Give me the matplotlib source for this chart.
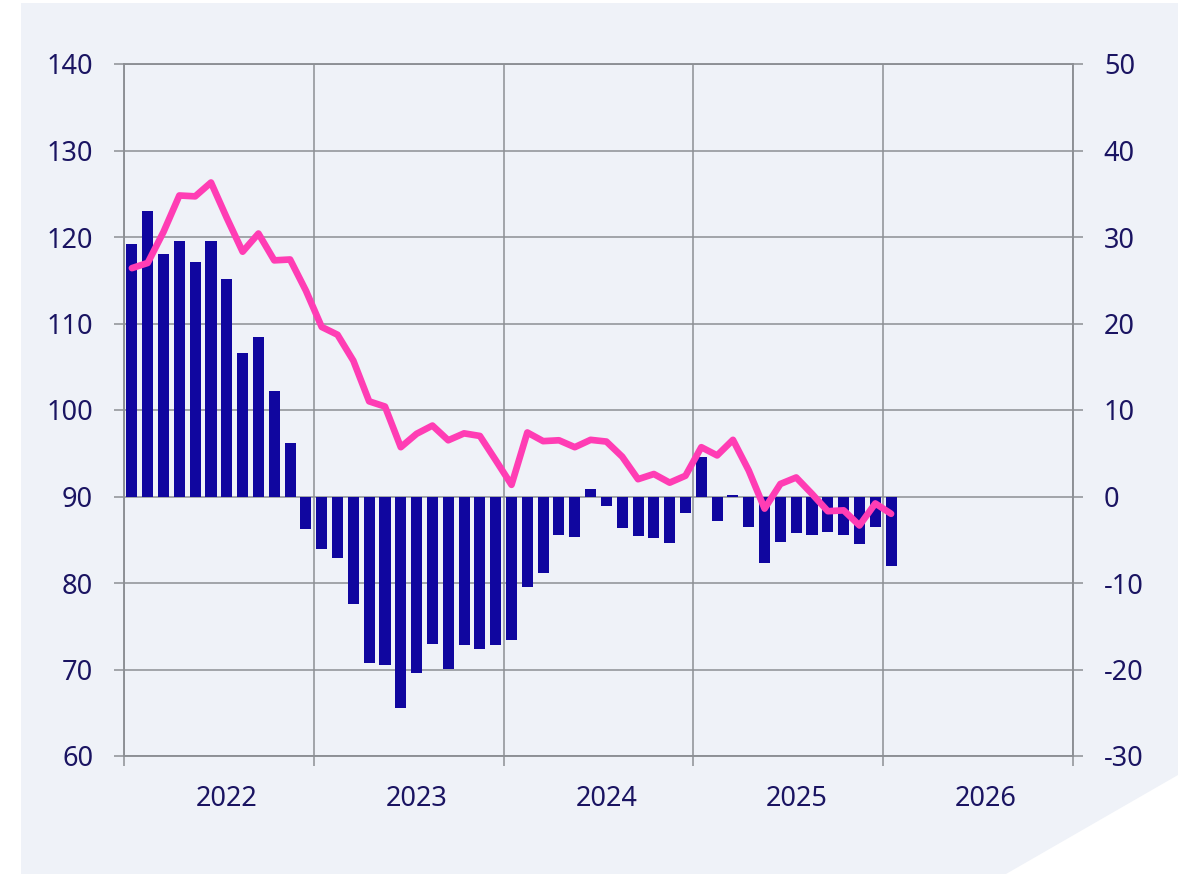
import numpy as np
import matplotlib.pyplot as plt
from matplotlib.patches import Polygon

plt.rcParams['font.family'] = ['Noto Sans', 'DejaVu Sans']
plt.rcParams['axes.unicode_minus'] = False

# monthly series, Jan 2022 .. Jan 2026
years = ["2022", "2023", "2024", "2025", "2026"]
bar_values = [29.2, 33.0, 28.0, 29.5, 27.1, 29.5, 25.1, 16.6, 18.4, 12.2, 6.2, -3.8,
              -6.05, -7.1, -12.4, -19.2, -19.5, -24.5, -20.4, -17.1, -19.95, -17.2, -17.65, -17.2,
              -16.6, -10.45, -8.9, -4.4, -4.7, 0.9, -1.1, -3.6, -4.6, -4.8, -5.4, -1.85,
              4.6, -2.8, 0.15, -3.55, -7.7, -5.25, -4.2, -4.5, -4.05, -4.4, -5.5, -3.5,
              -8.05]
line_values = [116.4, 117.0, 120.6, 124.8, 124.7, 126.3, 122.2, 118.3, 120.4, 117.3, 117.4, 113.8,
               109.6, 108.7, 105.7, 101.0, 100.4, 95.7, 97.25, 98.2, 96.5, 97.3, 97.0, 94.2,
               91.35, 97.4, 96.4, 96.5, 95.7, 96.55, 96.35, 94.6, 92.0, 92.6, 91.6, 92.4,
               95.7, 94.75, 96.55, 93.0, 88.6, 91.45, 92.2, 90.3, 88.3, 88.4, 86.65, 89.2,
               88.0]

grid_col = "#8c8f94"
text_col = "#1a1462"
bar_col = "#10069f"
line_col = "#ff3db4"
bg_col = "#eff2f8"

fig = plt.figure(figsize=(11.83, 8.74), dpi=100)
W, H = 1183, 874
pts = [(21, 3), (1178, 3), (1178, 775), (1006, 874), (21, 874)]
fig.patches.append(Polygon([(x / W, 1 - y / H) for x, y in pts], closed=True,
                           transform=fig.transFigure, facecolor=bg_col, edgecolor="none",
                           zorder=-5))

ax = fig.add_axes([124 / W, 1 - 756 / H, 949 / W, 692 / H])
ax2 = ax.twinx()
ax.patch.set_visible(False)
ax2.patch.set_visible(False)

x = np.arange(len(bar_values)) + 0.5
ax.bar(x, bar_values, width=0.7, color=bar_col, zorder=2)
ax.set_ylim(-30, 50)
ax.set_yticks(np.arange(-30, 51, 10))
ax.yaxis.tick_right()

ax2.plot(np.arange(len(line_values)) + 0.5, line_values, color=line_col, lw=4.8,
         solid_capstyle="round", solid_joinstyle="round")
ax2.set_ylim(60, 140)
ax2.set_yticks(np.arange(60, 141, 10))
ax2.yaxis.tick_left()

ax.set_xlim(0, 60)
ax.set_xticks(np.arange(0, 61, 12))
ax.set_xticklabels([])
ax.set_xticks(np.arange(6.5, 60, 12), minor=True)
ax.set_xticklabels(years, minor=True)
ax.tick_params(axis="x", which="minor", length=0, pad=21, labelsize=19.5, labelcolor=text_col)
ax.tick_params(axis="x", which="major", length=7.2, width=1.1, color=grid_col)
ax.tick_params(axis="y", length=7.2, width=1.1, color=grid_col, pad=15,
               labelsize=19.5, labelcolor=text_col)
ax2.tick_params(axis="y", length=7.2, width=1.1, color=grid_col, pad=15,
                labelsize=19.5, labelcolor=text_col)

ax.grid(True, which="major", color=grid_col, lw=1.1, zorder=0)
ax.set_axisbelow(True)
for a in (ax, ax2):
    for s in a.spines.values():
        s.set_color(grid_col)
        s.set_linewidth(1.1)

fig.savefig("out.png", dpi=100)
